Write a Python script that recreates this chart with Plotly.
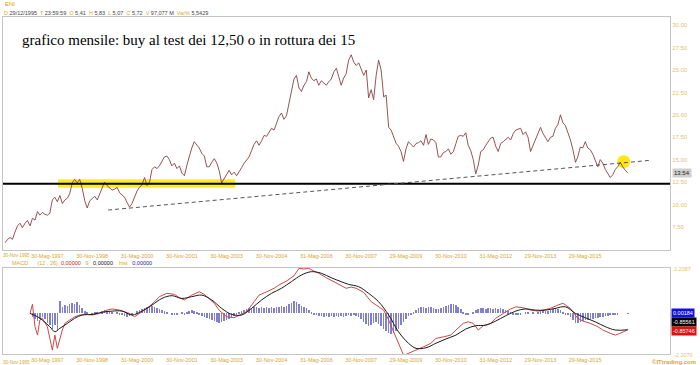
import plotly.graph_objects as go
import pandas as pd

# ---------------- data ----------------
price = [5.72, 6.1, 6.3, 6.1, 6.9, 7.6, 7.9, 7.4, 7.9, 8.2,
         7.6, 8.45, 8.25, 9.2, 8.8, 9.1, 8.9, 8.8, 9.0, 10.5,
         10.8, 10.3, 11.0, 10.1, 10.5, 10.7, 11.2, 12.4, 12.8, 12.4,
         12.8, 11.8, 10.4, 9.6, 10.4, 10.6, 10.9, 10.5, 11.2, 11.9,
         12.5, 12.1, 11.8, 11.6, 11.7, 11.9, 11.3, 11.0, 10.8, 10.2,
         9.7, 10.1, 10.9, 11.5, 11.9, 12.2, 13.0, 12.1, 12.5, 13.9,
         14.2, 14.0, 14.3, 14.8, 15.3, 15.4, 15.0, 14.3, 14.6, 14.0,
         14.3, 13.5, 13.2, 14.4, 15.4, 16.3, 17.0, 16.7, 16.3, 15.7,
         15.4, 14.2, 14.2, 14.7, 15.1, 14.6, 13.8, 12.4, 12.9, 13.3,
         13.8, 13.3, 13.6, 13.2, 13.6, 14.1, 14.6, 15.0, 15.3, 16.0,
         16.7, 17.1, 16.6, 17.1, 17.7, 17.6, 18.0, 18.5, 18.3, 19.0,
         19.8, 20.2, 19.5, 19.9, 21.2, 22.5, 24.0, 24.4, 23.0, 22.6,
         23.3, 23.7, 24.8, 24.1, 23.8, 24.0, 23.3, 23.8, 23.5, 23.3,
         23.7, 24.0, 24.8, 25.2, 24.3, 23.3, 24.1, 24.6, 26.1, 26.7,
         25.9, 25.5, 25.8, 25.0, 24.4, 25.0, 21.9, 22.8, 21.7, 24.4,
         26.1, 25.0, 22.0, 22.2, 18.6, 18.3, 17.5, 16.8, 16.5, 15.9,
         14.8, 16.2, 17.0, 16.7, 16.4, 16.8, 16.9, 17.1, 16.6, 17.8,
         16.7, 17.3, 17.2, 16.9, 15.3, 15.3, 15.8, 15.9, 16.2, 15.6,
         15.9, 16.8, 17.6, 17.7, 17.6, 18.0, 16.6, 16.0, 15.0, 13.4,
         14.4, 15.9, 16.1, 16.6, 17.0, 17.4, 17.5, 16.5, 15.9, 16.8,
         17.0, 17.2, 17.5, 17.2, 17.9, 18.3, 18.4, 18.5, 17.8, 18.1,
         17.5, 15.9, 16.6, 17.2, 17.8, 18.6, 17.9, 17.5, 17.0, 17.5,
         17.6, 18.5, 18.9, 20.0, 19.1, 18.8, 18.0, 17.2, 16.1, 14.7,
         15.3, 16.4, 16.3, 17.0, 16.3, 16.1, 15.6, 15.0, 14.2, 15.0,
         14.6, 13.9, 13.4, 13.0, 13.3, 13.9, 14.2, 14.7, 14.2, 13.8,
         13.54]
dates = pd.date_range("1995-12-31", periods=len(price), freq="ME")

macd_idx = [10, 11, 12, 13, 14, 15, 17, 18, 19, 20, 21, 23, 24, 26, 28, 30, 33, 35, 38, 41,
            43, 46, 50, 52, 54, 57, 60, 62, 65, 68, 70, 72, 75, 78, 80, 82, 84, 86, 89, 92,
            94, 97, 100, 102, 105, 108, 110, 113, 116, 118, 120, 122, 124, 126, 129, 132, 134, 137, 139, 141,
            144, 147, 149, 152, 154, 156, 158, 160, 161, 163, 165, 168, 171, 173, 176, 179, 181, 184, 186, 188,
            190, 192, 195, 197, 200, 203, 205, 208, 211, 214, 216, 219, 222, 224, 227, 230, 232, 235, 238, 240,
            243, 245, 247, 250]
macd_val = [-0.02, 0.45, -0.70, -1.13, -0.36, -0.27, -0.70, -1.22, -1.90, -1.13,
            -1.81, -0.87, -0.53, -0.36, -0.19, -0.10, -0.07, -0.10, -0.02, 0.15,
            0.21, 0.15, -0.02, -0.19, -0.02, 0.24, 0.58, 0.84, 1.01, 0.96,
            0.78, 0.67, 0.92, 1.09, 0.96, 0.75, 0.50, 0.15, -0.19, -0.24,
            -0.10, 0.07, 0.58, 0.92, 1.09, 1.27, 1.44, 1.64, 1.91, 2.29,
            2.26, 2.29, 2.15, 2.04, 1.81, 1.61, 1.47, 1.27, 1.33, 1.27,
            1.06, 0.58, 0.41, 0.15, -0.36, -0.96, -1.55, -2.15, -2.12, -2.02,
            -1.90, -1.73, -1.55, -1.30, -1.22, -1.13, -0.87, -0.53, -0.45, -0.53,
            -0.87, -0.65, -0.53, -0.27, -0.02, 0.21, 0.32, 0.27, 0.15, 0.10,
            0.15, 0.24, 0.41, 0.50, 0.24, -0.27, -0.41, -0.53, -0.70, -0.87,
            -1.04, -1.13, -1.04, -0.857]

signal_idx = [10, 13, 15, 18, 20, 22, 25, 28, 31, 35, 39, 43, 47, 51, 55, 59, 63, 67, 71, 75,
              79, 83, 87, 91, 95, 99, 103, 107, 111, 115, 119, 123, 127, 131, 135, 138, 142, 146, 150, 154,
              158, 162, 165, 169, 173, 177, 181, 185, 189, 193, 197, 201, 205, 209, 213, 217, 221, 225, 229, 233,
              237, 241, 245, 250]
signal_val = [-0.02, -0.19, -0.36, -0.70, -0.96, -0.78, -0.53, -0.27, -0.10, -0.07,
              0.04, 0.10, 0.10, -0.10, 0.10, 0.41, 0.75, 0.89, 0.75, 0.84,
              0.92, 0.67, 0.24, -0.07, -0.10, 0.24, 0.67, 1.01, 1.27, 1.61,
              1.95, 2.12, 2.04, 1.81, 1.61, 1.47, 1.35, 1.01, 0.58, -0.10,
              -0.96, -1.55, -1.81, -1.78, -1.55, -1.33, -1.13, -0.82, -0.65, -0.62,
              -0.41, -0.14, 0.10, 0.21, 0.15, 0.15, 0.24, 0.32, -0.02, -0.24,
              -0.45, -0.70, -0.87, -0.856]

hist_start = 10
hist_val = [0.0, -0.2, -0.3, -0.4, -0.3, -0.2, -0.3, -0.5, -0.6, -0.8,
            -0.6, -0.9, 0.6, 0.3, 0.4, 0.35, 0.45, 0.5, 0.45, 0.55,
            0.4, 0.25, 0.1, 0.05, 0.0, -0.05, 0.05, 0.05, 0.0, 0.1,
            0.15, 0.1, 0.05, 0.05, 0.0, 0.05, -0.05, -0.1, -0.15, -0.2,
            -0.15, -0.1, 0.0, 0.1, 0.15, 0.2, 0.25, 0.3, 0.3, 0.35,
            0.3, 0.25, 0.2, 0.15, 0.1, 0.05, 0.0, -0.05, -0.1, -0.05,
            0.0, 0.05, -0.05, 0.05, 0.1, 0.15, 0.1, 0.05, -0.1, -0.15,
            -0.2, -0.25, -0.3, -0.35, -0.4, -0.45, -0.5, -0.45, -0.4, -0.35,
            -0.3, -0.25, -0.15, -0.05, 0.05, 0.1, 0.15, 0.2, 0.25, 0.25,
            0.3, 0.3, 0.25, 0.3, 0.25, 0.3, 0.25, 0.3, 0.25, 0.3,
            0.3, 0.35, 0.3, 0.35, 0.45, 0.5, 0.6, 0.55, 0.45, 0.35,
            0.3, 0.25, 0.15, 0.05, -0.05, -0.1, -0.15, -0.15, -0.2, -0.15,
            -0.2, -0.15, -0.2, -0.15, -0.2, -0.15, -0.2, -0.15, -0.1, -0.15,
            -0.1, -0.15, -0.2, -0.3, -0.45, -0.55, -0.65, -0.6, -0.5, -0.45,
            -0.55, -0.65, -0.8, -0.9, -1.0, -1.05, -1.0, -0.9, -0.8, -0.6,
            -0.45, -0.3, -0.15, -0.05, 0.05, 0.15, 0.25, 0.3, 0.3, 0.25,
            0.3, 0.3, 0.25, 0.2, 0.2, 0.25, 0.3, 0.35, 0.4, 0.45,
            0.45, 0.4, 0.3, 0.2, 0.05, -0.05, -0.1, 0.0, 0.05, 0.15,
            0.2, 0.25, 0.25, 0.2, 0.25, 0.25, 0.2, 0.25, 0.2, 0.25,
            0.2, 0.15, 0.1, 0.05, -0.05, -0.1, -0.1, -0.05, 0.0, 0.05,
            0.05, 0.0, 0.05, 0.0, 0.05, 0.1, 0.15, 0.1, 0.1, 0.15,
            0.2, 0.25, 0.2, 0.15, 0.05, -0.05, -0.1, -0.2, -0.35, -0.5,
            -0.5, -0.45, -0.4, -0.35, -0.35, -0.3, -0.3, -0.25, -0.25, -0.2,
            -0.2, -0.15, -0.15, -0.1, -0.1, -0.05, -0.05, 0.0, 0.0, 0.0,
            0.00184]

tick_dates = ["1995-11-30", "1997-05-30", "1998-11-30", "2000-05-31", "2001-11-30",
              "2003-05-30", "2004-11-30", "2006-05-31", "2007-11-30", "2009-05-29",
              "2010-11-30", "2012-05-31", "2013-11-29", "2015-05-29"]
tick_text = ["30-Nov-1995", "30-Mag-1997", "30-Nov-1998", "31-Mag-2000", "30-Nov-2001",
             "30-Mag-2003", "30-Nov-2004", "31-Mag-2006", "30-Nov-2007", "29-Mag-2009",
             "30-Nov-2010", "31-Mag-2012", "29-Nov-2013", "29-Mag-2015"]
price_ticks = [7.5, 10.0, 12.5, 15.0, 17.5, 20.0, 22.5, 25.0, 27.5, 30.0]

support_level = 12.3
zone_start, zone_end, zone_low, zone_high = "1997-10-08", "2003-09-12", 11.86, 12.8
trend_start, trend_end = ("1999-06-12", 9.37), ("2017-07-31", 14.92)
highlight_point = ("2016-09-12", 14.77)

title_text = "grafico mensile: buy al test dei 12,50 o in rottura dei 15"

# ---------------- figure ----------------
GOLD = "#d8a830"
PALE = "#e2c36a"
W, H = 700, 365
ML, MR, MT, MB = 3, 30, 17, 11


def px_x(p):
    return (p - ML) / (W - ML - MR)


def px_y(p):
    return (H - MB - p) / (H - MT - MB)


fig = go.Figure()

fig.add_trace(go.Scatter(x=[highlight_point[0]], y=[highlight_point[1]], mode="markers",
                         marker=dict(size=13, color="rgba(255,232,0,0.95)", line=dict(width=0)),
                         xaxis="x", yaxis="y", hoverinfo="skip"))
fig.add_trace(go.Scatter(x=dates, y=price, mode="lines", line=dict(color="#8a4040", width=0.9),
                         xaxis="x", yaxis="y"))

hist_dates = dates[hist_start:hist_start + len(hist_val)]
fig.add_trace(go.Bar(x=hist_dates, y=hist_val, marker=dict(color="#8080cc", line=dict(width=0)),
                     width=[7 * 24 * 3600 * 1000] * len(hist_val), xaxis="x2", yaxis="y2"))
fig.add_trace(go.Scatter(x=dates[macd_idx], y=macd_val, mode="lines",
                         line=dict(color="#d04848", width=1), xaxis="x2", yaxis="y2"))
fig.add_trace(go.Scatter(x=dates[signal_idx], y=signal_val, mode="lines",
                         line=dict(color="#1a1a1a", width=1, shape="spline"), xaxis="x2", yaxis="y2"))

x_range = ["1995-12-06", "2018-03-31"]
axis_common = dict(showgrid=False, zeroline=False, showline=True, mirror=True,
                   linecolor="#c4c4c4", linewidth=1, ticks="")
tick_font = dict(family="Liberation Sans, Arial", size=5.5, color=GOLD)
fig.update_layout(
    width=W, height=H, margin=dict(l=ML, r=MR, t=MT, b=MB),
    paper_bgcolor="white", plot_bgcolor="white", showlegend=False, bargap=0,
    font=dict(family="Liberation Sans, Arial", size=6, color=GOLD),
    xaxis=dict(domain=[0, 1], range=x_range, anchor="y", type="date",
               tickvals=tick_dates, ticktext=tick_text, tickfont=tick_font, **axis_common),
    xaxis2=dict(domain=[0, 1], range=x_range, anchor="y2", type="date", matches="x",
                tickvals=tick_dates, ticktext=tick_text, tickfont=tick_font, **axis_common),
    yaxis=dict(domain=[px_y(250), 1], range=[4.91, 30.92], side="right", anchor="x",
               tickvals=price_ticks, ticktext=[f"{v:.2f}" for v in price_ticks],
               tickfont=dict(family="Liberation Sans, Arial", size=6, color=PALE), **axis_common),
    yaxis2=dict(domain=[0, px_y(268)], range=[-2.10, 2.31], side="right", anchor="x2",
                showticklabels=False, **axis_common),
)

# highlighted zone, support, trend line
fig.add_shape(type="rect", xref="x", yref="y", x0=zone_start, x1=zone_end, y0=zone_low, y1=zone_high,
              fillcolor="rgba(255,236,0,0.9)", line=dict(width=0), layer="below")
fig.add_shape(type="line", xref="paper", yref="y", x0=0, x1=1, y0=support_level, y1=support_level,
              line=dict(color="black", width=2))
fig.add_shape(type="line", xref="x", yref="y", x0=trend_start[0], y0=trend_start[1],
              x1=trend_end[0], y1=trend_end[1], line=dict(color="#555555", width=1, dash="4px,3px"))

ann = []
ann.append(dict(text=title_text, x=px_x(20), y=px_y(40), xref="paper", yref="paper",
                xanchor="left", yanchor="middle", showarrow=False,
                font=dict(family="Liberation Serif, Times New Roman", size=15, color="black")))
ann.append(dict(text="ENI", x=px_x(3), y=px_y(4), xref="paper", yref="paper", xanchor="left",
                yanchor="middle", showarrow=False, font=dict(size=6, color="#e0a000")))
hdr_parts = [("D", "29/12/1995"), ("T", "23:59:59"), ("O", "5,41"), ("H", "5,83"), ("L", "5,07"),
             ("C", "5,72"), ("V", "97,077 M"), ("Var%", "5,5429")]
hdr = "  ".join(f"<span style='color:{GOLD}'>{k}</span> <span style='color:#444444'>{v}</span>"
                for k, v in hdr_parts)
ann.append(dict(text=hdr, x=px_x(2), y=px_y(13), xref="paper", yref="paper", xanchor="left",
                yanchor="middle", showarrow=False, font=dict(size=5.5)))
# first date label at the left edge, slightly smaller so it does not touch the next one
first_font = dict(family="Liberation Sans, Arial", size=4.6, color=GOLD)
for py in (256, 362):
    ann.append(dict(text=tick_text[0], x=px_x(0.5), y=px_y(py), xref="paper", yref="paper",
                    xanchor="left", yanchor="middle", showarrow=False, font=first_font))
ann.append(dict(text="13.54", x=1, y=13.54, xref="paper", yref="y", xanchor="left", yanchor="middle",
                showarrow=False, bgcolor="#cfcfcf", font=dict(size=6, color="#222222"),
                borderpad=1, xshift=2))
macd_hdr = (f"<span style='color:{GOLD}'>MACD</span>      <span style='color:{GOLD}'>(12 , 26)</span>  "
            "<span style='color:#cc2222'>0,00000</span>   "
            f"<span style='color:{GOLD}'>9</span>   <span style='color:#111111'>0,00000</span>    "
            f"<span style='color:{GOLD}'>hist</span>   <span style='color:#2222aa'>0,00000</span>")
ann.append(dict(text=macd_hdr, x=px_x(10), y=px_y(263), xref="paper", yref="paper", xanchor="left",
                yanchor="middle", showarrow=False, font=dict(size=5.5)))
ann.append(dict(text="2.2087", x=1, y=px_y(269), xref="paper", yref="paper", xanchor="left",
                yanchor="middle", showarrow=False, xshift=2, font=dict(size=5.5, color=PALE)))
ann.append(dict(text="-2.2070", x=1, y=px_y(355), xref="paper", yref="paper", xanchor="left",
                yanchor="middle", showarrow=False, xshift=2, font=dict(size=5.5, color=PALE)))
for txt, py, bg in [("0.00184", 313, "#1010e0"), ("-0.85561", 322, "#000000"), ("-0.85746", 331, "#e01010")]:
    ann.append(dict(text=txt, x=1, y=px_y(py), xref="paper", yref="paper", xanchor="left",
                    yanchor="middle", showarrow=False, xshift=1, bgcolor=bg, borderpad=1,
                    font=dict(size=5.5, color="white")))
ann.append(dict(text="<b>©ITtrading.com</b>", x=px_x(698), y=px_y(362), xref="paper", yref="paper",
                xanchor="right", yanchor="middle", showarrow=False, font=dict(size=6, color=GOLD)))
fig.update_layout(annotations=ann)

fig.write_html("out.html")
